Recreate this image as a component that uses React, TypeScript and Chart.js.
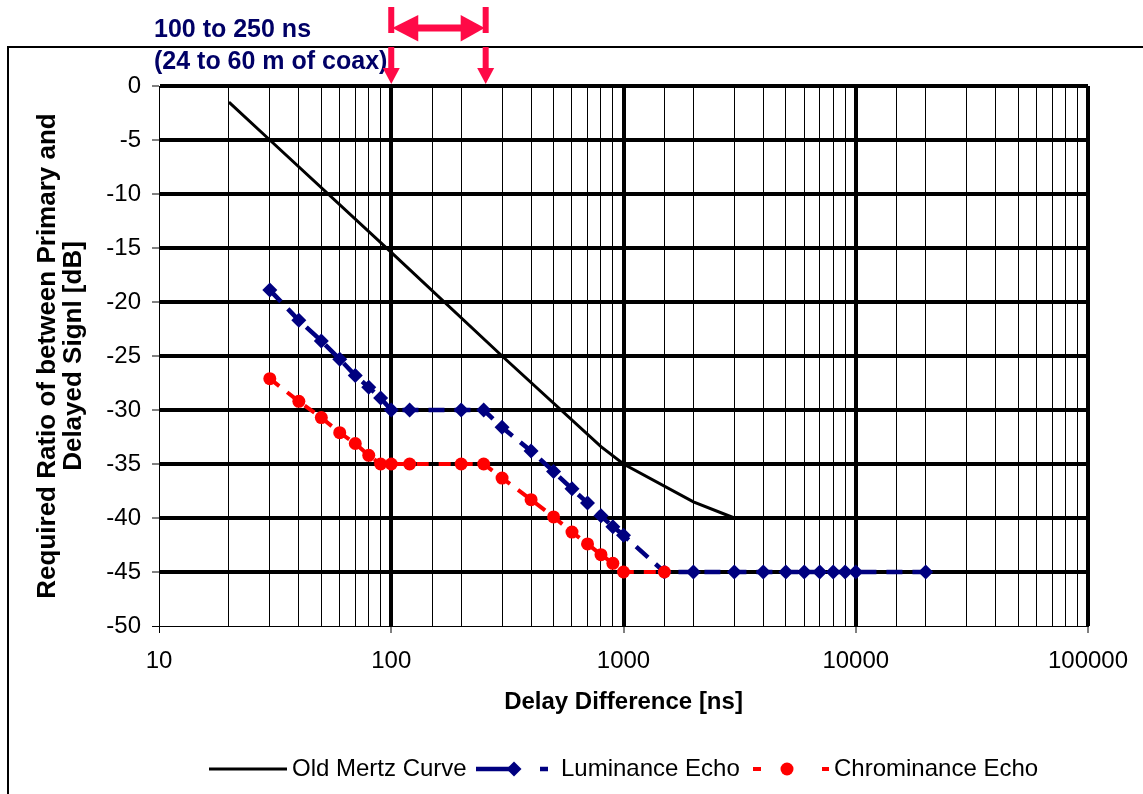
import React, { useEffect, useRef } from 'react';
import { Chart, registerables } from 'chart.js';

Chart.register(...registerables);

// ---------- data ----------
const mertzX = [20, 30, 100, 300, 800, 1000, 2000, 3000];
const mertzY = [-1.5, -5, -15.4, -25, -33.4, -35, -38.5, -40];

const lumX = [30, 40, 50, 60, 70, 80, 90, 100, 120, 200, 250, 300, 400, 500, 600, 700, 800, 900, 1000, 1500, 2000, 3000, 4000, 5000, 6000, 7000, 8000, 9000, 10000, 20000];
const lumY = [-18.9, -21.7, -23.6, -25.3, -26.8, -27.9, -28.9, -30, -30, -30, -30, -31.6, -33.8, -35.7, -37.3, -38.6, -39.8, -40.8, -41.6, -45, -45, -45, -45, -45, -45, -45, -45, -45, -45, -45];

const chrX = [30, 40, 50, 60, 70, 80, 90, 100, 120, 200, 250, 300, 400, 500, 600, 700, 800, 900, 1000, 1500];
const chrY = [-27.1, -29.2, -30.7, -32.1, -33.1, -34.2, -35, -35, -35, -35, -35, -36.3, -38.3, -39.9, -41.3, -42.4, -43.4, -44.2, -45, -45];

const seriesNames = ['Old Mertz Curve', 'Luminance Echo', 'Chrominance Echo'];
const xTitle = 'Delay Difference [ns]';
const yTitle = ['Required Ratio of between Primary and', 'Delayed Signl [dB]'];
const annotationLines = ['100 to 250 ns', '(24 to 60 m of coax)'];
const rangeStart = 100;
const rangeEnd = 250;
const xMin = 10;
const xMax = 100000;
const yMin = -50;
const yMax = 0;
const yStep = 5;

// ---------- styles ----------
const FONT = '"Liberation Sans", Arial, sans-serif';
const NAVY = '#000080';
const RED = '#FF0000';
const ARROW = '#FF0A47';
const TEXT_NAVY = '#000066';

const isDecade = (v: number) => {
  const l = Math.log10(v);
  return Math.abs(l - Math.round(l)) < 1e-9;
};

const overlayPlugin = {
  id: 'overlay',
  beforeDraw(chart: any) {
    const ctx = chart.ctx;
    ctx.save();
    ctx.fillStyle = '#fff';
    ctx.fillRect(0, 0, chart.width, chart.height);
    ctx.strokeStyle = '#000';
    ctx.lineWidth = 2;
    ctx.strokeRect(8, 47, chart.width + 40, chart.height + 40);
    ctx.restore();
  },
  afterDraw(chart: any) {
    const ctx = chart.ctx;
    const xs = chart.scales.x;
    const x1 = xs.getPixelForValue(rangeStart);
    const x2 = xs.getPixelForValue(rangeEnd) + 2;
    ctx.save();

    // annotation text
    ctx.fillStyle = TEXT_NAVY;
    ctx.font = `bold 25px ${FONT}`;
    ctx.textBaseline = 'middle';
    ctx.textAlign = 'left';
    ctx.fillText(annotationLines[0], 154, 30);
    ctx.fillText(annotationLines[1], 154, 62);

    // range arrows
    ctx.fillStyle = ARROW;
    ctx.fillRect(x1 - 3, 7, 6, 26);
    ctx.fillRect(x2 - 3, 7, 6, 26);
    // shaft
    ctx.fillRect(x1 + 26, 24.5, x2 - x1 - 50, 7);
    // heads
    ctx.beginPath();
    ctx.moveTo(x1 + 1, 28);
    ctx.lineTo(x1 + 27, 15);
    ctx.lineTo(x1 + 27, 41.5);
    ctx.closePath();
    ctx.fill();
    ctx.beginPath();
    ctx.moveTo(x2 - 1, 28);
    ctx.lineTo(x2 - 25, 15);
    ctx.lineTo(x2 - 25, 41.5);
    ctx.closePath();
    ctx.fill();
    // down arrows
    for (const x of [x1, x2]) {
      ctx.fillRect(x - 3, 47, 6, 22);
      ctx.beginPath();
      ctx.moveTo(x - 8.5, 68);
      ctx.lineTo(x + 8.5, 68);
      ctx.lineTo(x, 84);
      ctx.closePath();
      ctx.fill();
    }

    // legend
    const ly = 769;
    ctx.font = `24px ${FONT}`;
    ctx.fillStyle = '#000';
    ctx.textBaseline = 'middle';
    // Mertz
    ctx.strokeStyle = '#000';
    ctx.lineWidth = 3;
    ctx.beginPath();
    ctx.moveTo(209, ly);
    ctx.lineTo(287, ly);
    ctx.stroke();
    ctx.fillText(seriesNames[0], 292, ly);
    // Luminance
    ctx.strokeStyle = NAVY;
    ctx.fillStyle = NAVY;
    ctx.lineWidth = 4.5;
    ctx.beginPath();
    ctx.moveTo(476, ly);
    ctx.lineTo(512, ly);
    ctx.moveTo(540, ly);
    ctx.lineTo(548, ly);
    ctx.stroke();
    ctx.beginPath();
    ctx.moveTo(514 - 7.5, ly);
    ctx.lineTo(514, ly - 7.5);
    ctx.lineTo(514 + 7.5, ly);
    ctx.lineTo(514, ly + 7.5);
    ctx.closePath();
    ctx.fill();
    ctx.fillStyle = '#000';
    ctx.fillText(seriesNames[1], 561, ly);
    // Chrominance
    ctx.strokeStyle = RED;
    ctx.fillStyle = RED;
    ctx.lineWidth = 4;
    ctx.beginPath();
    ctx.moveTo(753, ly);
    ctx.lineTo(761, ly);
    ctx.moveTo(822, ly);
    ctx.lineTo(829, ly);
    ctx.stroke();
    ctx.beginPath();
    ctx.arc(787, ly, 6.5, 0, Math.PI * 2);
    ctx.fill();
    ctx.fillStyle = '#000';
    ctx.fillText(seriesNames[2], 834, ly);

    ctx.restore();
  },
};

export default function App() {
  const canvasRef = useRef<HTMLCanvasElement | null>(null);

  useEffect(() => {
    if (!canvasRef.current) return;
    Chart.defaults.font.family = FONT;
    Chart.defaults.color = '#000';

    const chart = new Chart(canvasRef.current, {
      type: 'scatter',
      data: {
        datasets: [
          {
            label: seriesNames[0],
            data: mertzX.map((x, i) => ({ x, y: mertzY[i] })),
            showLine: true,
            borderColor: '#000',
            backgroundColor: '#000',
            borderWidth: 3,
            pointRadius: 0,
            order: 2,
          },
          {
            label: seriesNames[1],
            data: lumX.map((x, i) => ({ x, y: lumY[i] })),
            showLine: true,
            borderColor: NAVY,
            backgroundColor: NAVY,
            borderWidth: 4.5,
            borderDash: [16, 10],
            pointStyle: 'rectRot',
            pointRadius: 7.5,
            pointBorderWidth: 0,
            pointBackgroundColor: NAVY,
            order: 1,
          },
          {
            label: seriesNames[2],
            data: chrX.map((x, i) => ({ x, y: chrY[i] })),
            showLine: true,
            borderColor: RED,
            backgroundColor: RED,
            borderWidth: 4,
            borderDash: [12, 10],
            pointStyle: 'circle',
            pointRadius: 6.5,
            pointBorderWidth: 0,
            pointBackgroundColor: RED,
            order: 0,
          },
        ],
      },
      options: {
        responsive: false,
        animation: false,
        devicePixelRatio: 1,
        layout: { padding: { left: 0, top: 86, right: 55, bottom: 77 } },
        plugins: {
          legend: { display: false },
          tooltip: { enabled: false },
        },
        scales: {
          x: {
            type: 'logarithmic',
            min: xMin,
            max: xMax,
            afterFit: (s: any) => {
              s.height = 794 - 77 - 626;
            },
            border: { display: true, color: '#000', width: 1 },
            grid: {
              color: '#000',
              lineWidth: (c: any) => (c.tick && c.tick.value !== xMin && isDecade(c.tick.value) ? 4 : 1),
              tickColor: (c: any) => (c.tick && isDecade(c.tick.value) ? '#000' : 'rgba(0,0,0,0)'),
              tickWidth: 1,
              tickLength: 7,
              drawTicks: true,
            },
            ticks: {
              autoSkip: false,
              maxRotation: 0,
              minRotation: 0,
              padding: 14,
              font: { size: 24, family: FONT },
              color: '#000',
              callback: (v: any) => (isDecade(Number(v)) ? String(Math.round(Number(v))) : ''),
            },
            title: {
              display: true,
              text: xTitle,
              font: { size: 24, weight: 'bold', family: FONT },
              color: '#000',
              padding: 0,
            },
          },
          y: {
            type: 'linear',
            min: yMin,
            max: yMax,
            afterFit: (s: any) => {
              s.width = 159;
            },
            border: { display: true, color: '#000', width: 1 },
            grid: {
              color: '#000',
              lineWidth: (c: any) => (c.tick && c.tick.value === yMin ? 1 : 4),
              tickColor: '#000',
              tickWidth: 1,
              tickLength: 7,
            },
            ticks: {
              stepSize: yStep,
              padding: 11,
              font: { size: 24, family: FONT },
              color: '#000',
              callback: (v: any) => String(v),
            },
            title: {
              display: true,
              text: yTitle,
              font: { size: 26, weight: 'bold', family: FONT, lineHeight: 0.97 },
              color: '#000',
              padding: { top: 35.5, bottom: 0 },
            },
          },
        },
      },
      plugins: [overlayPlugin],
    } as any);

    return () => chart.destroy();
  }, []);

  return (
    <canvas
      ref={canvasRef}
      width={1143}
      height={794}
      style={{ position: 'absolute', left: 0, top: 0, display: 'block' }}
    />
  );
}
